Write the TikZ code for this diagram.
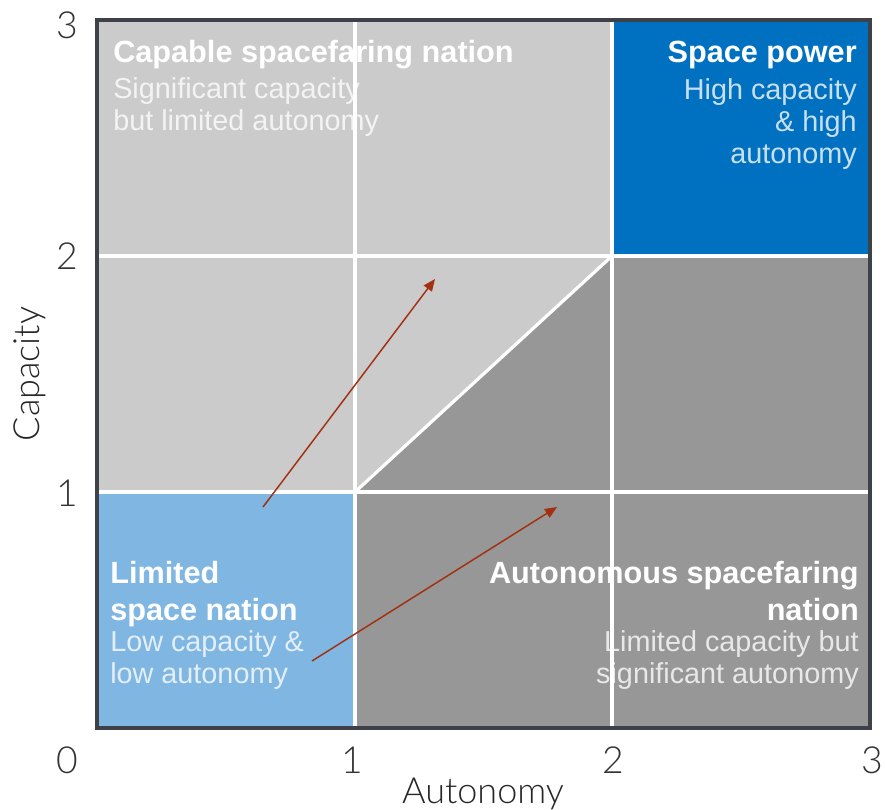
\documentclass[tikz,border=0pt]{standalone}
\usepackage{fontspec}
\setmainfont{Liberation Sans}
\newfontfamily\lightfont{Lato Light}
\usetikzlibrary{arrows.meta}
\definecolor{cellLight}{HTML}{CBCBCB}
\definecolor{cellDark}{HTML}{979797}
\definecolor{cellSky}{HTML}{80B6E2}
\definecolor{cellBlue}{HTML}{0070C0}
\definecolor{frameGray}{HTML}{3E4248}
\definecolor{pathRed}{HTML}{A3300F}
\tikzset{
  gridline/.style={white, line width=2.4pt},
  move/.style={pathRed, line width=1.1pt, -{Triangle[length=9pt,width=7.5pt]}},
  tick/.style={font=\lightfont\fontsize{28}{30}\selectfont, text=black!80, inner sep=0pt},
  axistitle/.style={font=\lightfont\fontsize{27}{29}\selectfont, text=black!85, inner sep=0pt},
  cellhead/.style={font=\bfseries\fontsize{23}{27.75}\selectfont, text=white, inner sep=0pt},
  cellsub/.style={font=\fontsize{21.6}{24}\selectfont, text=white, text opacity=0.78, inner sep=0pt}
}
\begin{document}
\begin{tikzpicture}[x=0.75pt, y=-0.75pt]
\useasboundingbox (0,0) rectangle (885,810);
% quadrant fills
\fill[cellLight] (97,20) rectangle (870,728);
\fill[cellDark] (355,728) -- (355,492) -- (612,256) -- (870,256) -- (870,728) -- cycle;
\fill[cellSky] (97,492) rectangle (355,728);
\fill[cellBlue] (612,20) rectangle (870,256);
% region labels (multi-line nodes sit on the baseline of their last line)
\node[cellhead, anchor=base west] (capT) at (113,62) {Capable spacefaring nation};
\node[cellsub, anchor=base west, align=left] (capS) at (113,130) {Significant capacity\\but limited autonomy};
\node[cellhead, anchor=base east] (powT) at (857,62) {Space power};
\node[cellsub, anchor=base east, align=right] (powS) at (857,163) {High capacity\\\& high\\autonomy};
\node[cellhead, anchor=base west, align=left] (limT) at (110,620) {Limited\\space nation};
\node[cellsub, anchor=base west, align=left] (limS) at (110,683) {Low capacity \&\\low autonomy};
\node[cellhead, anchor=base east, align=right] (autT) at (859,620) {Autonomous spacefaring\\nation};
\node[cellsub, anchor=base east, align=right] (autS) at (859,683) {Limited capacity but\\significant autonomy};
% grid
\draw[gridline] (355,20) -- (355,728);
\draw[gridline] (612,20) -- (612,728);
\draw[gridline] (97,256) -- (870,256);
\draw[gridline] (97,492) -- (870,492);
\draw[gridline] (355,492) -- (612,256);
% frame
\draw[frameGray, line width=3pt] (97,20) rectangle (870,728);
% development paths
\coordinate (p1s) at (263,507);
\coordinate (p1e) at (435,279);
\coordinate (p2s) at (312,661);
\coordinate (p2e) at (557,507);
\draw[move] (p1s) -- (p1e);
\draw[move] (p2s) -- (p2e);
% axis ticks
\node[tick] (y3) at (67,25) {3};
\node[tick] (y2) at (67,256) {2};
\node[tick] (y1) at (67,493) {1};
\node[tick] (x0) at (67,760) {0};
\node[tick] (x1) at (352,760) {1};
\node[tick] (x2) at (613,760) {2};
\node[tick] (x3) at (872,760) {3};
% axis titles
\node[axistitle] (xt) at (483,794) {Autonomy};
\node[axistitle, rotate=90] (yt) at (30,374) {Capacity};
\end{tikzpicture}
\end{document}
